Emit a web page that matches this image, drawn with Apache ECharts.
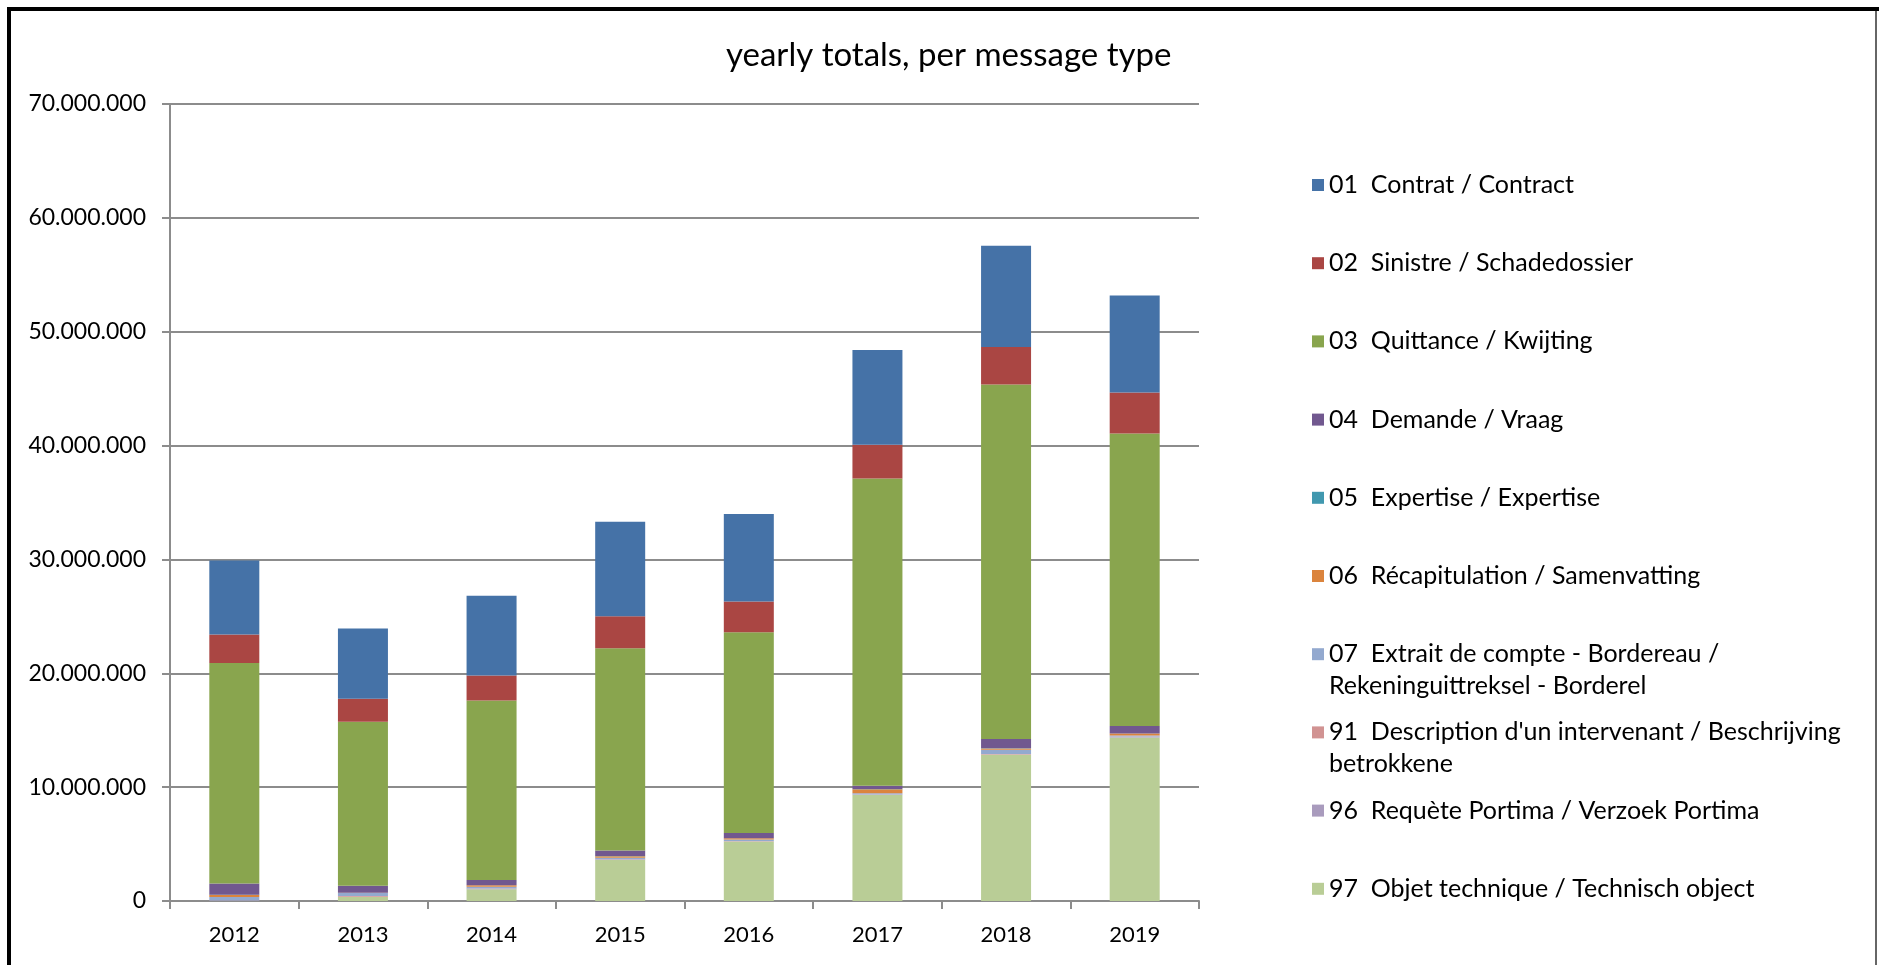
<!DOCTYPE html>
<html>
<head>
<meta charset="utf-8">
<script src="https://cdn.jsdelivr.net/npm/echarts@6/dist/echarts.min.js"></script>
<style>
  html, body { margin: 0; padding: 0; background: #fff; }
  #container { width: 1879px; height: 965px; }
</style>
</head>
<body>
<div id="container"></div>
<script>
// data (stack order bottom -> top)
var years = ['2012', '2013', '2014', '2015', '2016', '2017', '2018', '2019'];

var names = [
  '97  Objet technique / Technisch object',
  '96  Requète Portima / Verzoek Portima',
  "91  Description d'un intervenant / Beschrijving betrokkene",
  '07  Extrait de compte - Bordereau / Rekeninguittreksel - Borderel',
  '06  Récapitulation / Samenvatting',
  '05  Expertise / Expertise',
  '04  Demande / Vraag',
  '03  Quittance / Kwijting',
  '02  Sinistre / Schadedossier',
  '01  Contrat / Contract'
];

var objetTechnique = [0, 350000, 1030000, 3610000, 5220000, 9300000, 12840000, 14370000];
var requetePortima = [20000, 20000, 30000, 30000, 30000, 30000, 30000, 60000];
var description    = [30000, 70000, 40000, 30000, 30000, 30000, 50000, 20000];
var extraitCompte  = [300000, 260000, 150000, 120000, 120000, 110000, 360000, 90000];
var recapitulation = [180000, 20000, 130000, 150000, 110000, 350000, 120000, 170000];
var expertise      = [10000, 0, 0, 20000, 0, 10000, 20000, 10000];
var demande        = [1000000, 630000, 470000, 470000, 470000, 290000, 800000, 650000];
var quittance      = [19370000, 14390000, 15750000, 17770000, 17620000, 26980000, 31140000, 25700000];
var sinistre       = [2500000, 2030000, 2200000, 2800000, 2700000, 2970000, 3290000, 3600000];
var contrat        = [6500000, 6170000, 7000000, 8300000, 7700000, 8330000, 8900000, 8500000];

var seriesValues = [objetTechnique, requetePortima, description, extraitCompte, recapitulation,
                    expertise, demande, quittance, sinistre, contrat];

var colors = ['#B9CD96', '#A99BBD', '#D19392', '#93A9CF', '#DB843D',
              '#4198AF', '#71588F', '#89A54E', '#AA4643', '#4572A7'];

// legend text as shown (wrapped lines), legend lists 01 first
var legendText = {
  '07  Extrait de compte - Bordereau / Rekeninguittreksel - Borderel':
    '\n07  Extrait de compte - Bordereau /\nRekeninguittreksel - Borderel',
  "91  Description d'un intervenant / Beschrijving betrokkene":
    "\n91  Description d'un intervenant / Beschrijving\nbetrokkene"
};

var dom = document.getElementById('container');
var myChart = echarts.init(dom);

var fontName = 'Lato';

function fmt(v) {
  return String(v).replace(/\B(?=(\d{3})+(?!\d))/g, '.');
}

var series = [];
for (var i = 0; i < names.length; i++) {
  series.push({
    name: names[i],
    type: 'bar',
    stack: 'total',
    barWidth: 50,
    itemStyle: { color: colors[i] },
    data: seriesValues[i]
  });
}

// one legend per item so every icon sits at a fixed step, like the original
var legends = [];
var lineH = 32;
for (var k = 0; k < names.length; k++) {
  var nm = names[names.length - 1 - k];
  var txt = legendText[nm] || nm;
  var lines = txt.split('\n').length;
  var iconY = 185 + k * 78.2;
  legends.push({
    data: [nm],
    left: 1312,
    top: iconY - lines * lineH / 2,
    padding: 0,
    icon: 'rect',
    itemWidth: 12,
    itemHeight: 12,
    formatter: function (name) { return legendText[name] || name; },
    textStyle: { fontFamily: fontName, fontSize: 25, color: '#000', lineHeight: lineH }
  });
}

option = {
  backgroundColor: '#fff',
  animation: false,
  title: {
    text: 'yearly totals, per message type',
    left: 721,
    top: 34,
    textStyle: { fontFamily: fontName, fontSize: 33, fontWeight: 'normal', color: '#000' }
  },
  legend: legends,
  grid: { left: 170, top: 104, right: 680, bottom: 64 },
  xAxis: {
    type: 'category',
    data: years,
    axisLine: { lineStyle: { color: '#8c8c8c', width: 2 } },
    axisTick: { show: true, length: 8, lineStyle: { color: '#8c8c8c', width: 2 } },
    axisLabel: { margin: 23, fontFamily: fontName, fontSize: 22, color: '#000' }
  },
  yAxis: {
    type: 'value',
    min: 0,
    max: 70000000,
    interval: 10000000,
    axisLine: { show: true, lineStyle: { color: '#8c8c8c', width: 2 } },
    axisTick: { show: true, length: 8, lineStyle: { color: '#8c8c8c', width: 2 } },
    splitLine: { lineStyle: { color: '#8c8c8c', width: 2 } },
    axisLabel: { margin: 24, fontFamily: fontName, fontSize: 23, color: '#000', formatter: fmt }
  },
  graphic: [
    { type: 'polyline', shape: { points: [[9, 965], [9, 9], [1879, 9]] },
      style: { stroke: '#000', lineWidth: 4, fill: null } },
    { type: 'line', shape: { x1: 1876, y1: 11, x2: 1876, y2: 965 },
      style: { stroke: '#333', lineWidth: 1.5 } }
  ],
  series: series
};

if (option && typeof option === 'object') {
  myChart.setOption(option, true);
}
</script>
</body>
</html>
